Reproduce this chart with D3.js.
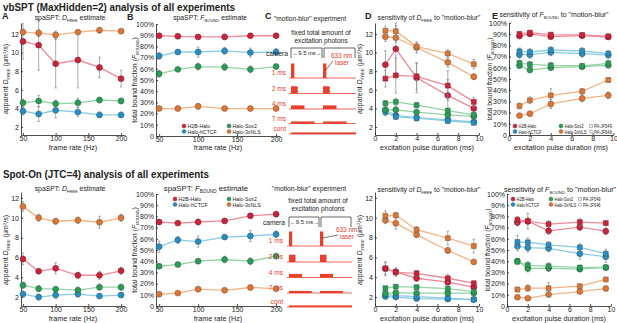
<!DOCTYPE html>
<html>
<head>
<meta charset="utf-8">
<script src="https://cdn.jsdelivr.net/npm/d3@7"></script>
<style>
  body { margin: 0; background: #fff; }
  svg { font-family: 'Liberation Sans', Arial, sans-serif; }
  .axis path, .axis line { stroke: #222; stroke-width: 0.8; }
  .axis text { font-size: 7px; fill: #222; font-family: 'Liberation Sans', Arial, sans-serif; }
</style>
</head>
<body>
<svg id="fig" width="617" height="323"></svg>
<script>
// Categories
const proteins = ['H2B-Halo', 'Halo-hCTCF', 'Halo-Sox2', 'Halo-3xNLS']
const frameRates = [50, 74, 100, 134, 167, 200]
const pulseDurations = [1, 2, 4, 7, 9.5]
const frameTicks = [50, 100, 150, 200]
const pulseTicks = [0, 2, 4, 6, 8, 10]
const dfreeTicks = [2, 4, 6, 8, 10, 12]
const fboundTicks = [0, 10, 20, 30, 40, 50, 60, 70, 80, 90, 100]
const schemeLabels = ['1 ms', '2 ms', '4 ms', '7 ms', 'cont']
const schemePulses = [1, 2, 4, 7, 9.5]
const dyeLabels = ['PA-JF549', 'PA-JF646']

// vbSPT, frame rate series (order: H2B, hCTCF, Sox2, 3xNLS)
const vbFrameDfree = [
  [11.2, 10.8, 8.8, 9.2, 8.4, 7.2],
  [3.7, 3.4, 3.8, 3.6, 3.3, 3.3],
  [4.6, 4.8, 4.5, 4.6, 4.9, 4.8],
  [12.2, 12.1, 11.9, 12.2, 12.4, 12.3]
]
const vbFrameDfreeErr = [
  [1.9, 2.7, 2.6, 3.0, 1.1, 0.9],
  [0.4, 0.8, 0.8, 0.5, 0.3, 0.3],
  [0.4, 0.6, 0.4, 0.5, 0.3, 0.3],
  [0.3, 0.4, 0.4, 0.2, 0.3, 0.2]
]
const vbFrameFbound = [
  [89.5, 89, 88.5, 88.5, 89.5, 89.5],
  [71.5, 75, 75, 76, 74.5, 75],
  [55.5, 59.5, 62, 61.5, 59.5, 62],
  [24.5, 24.5, 26.5, 24.5, 24.5, 24.5]
]
const vbFrameFboundErr = [
  [1, 1, 1, 2.5, 1, 1],
  [3, 2, 4.5, 3, 4, 3],
  [3, 1, 3, 3, 3, 2],
  [1, 1, 2.5, 1, 1.5, 1]
]

// vbSPT, pulse duration series, one array per dye
const vbPulseDfree549 = [
  [7.2, 7.55, 7.45, 6.45, 4.7],
  [3.6, 3.1, 2.95, 2.65, 2.45],
  [4.55, 4.7, 4.35, 3.75, 3.3],
  [12.35, 12.3, 10.65, 9.9, 8.75]
]
const vbPulseDfree549Err = [
  [0.9, 1.9, 1.4, 1.6, 0.5],
  [0.4, 0.3, 0.3, 0.2, 0.2],
  [0.3, 0.4, 0.3, 0.3, 0.3],
  [0.5, 0.6, 0.4, 0.4, 0.5]
]
const vbPulseDfree646 = [
  [8.7, 10.4, 7.3, 5.4, 4.0],
  [3.8, 3.25, 3.0, 2.75, 2.55],
  [3.85, 3.85, 3.6, 3.3, 3.15],
  [11.7, 11.6, 10.55, 8.95, 7.4]
]
const vbPulseDfree646Err = [
  [1.5, 2.8, 1.6, 1.7, 0.6],
  [0.5, 0.4, 0.3, 0.3, 0.3],
  [0.3, 0.3, 0.3, 0.3, 0.3],
  [0.5, 0.5, 0.6, 0.5, 0.3]
]
const vbPulseFbound549 = [
  [90.2, 91.4, 89.6, 89.3, 88.1],
  [74.7, 74.1, 75.9, 75, 72.6],
  [64.3, 63.1, 62.2, 61.6, 64],
  [25.9, 31, 35.4, 39, 49.1]
]
const vbPulseFbound549Err = [
  [1.5, 1.5, 1.5, 1, 1.5],
  [3, 3, 3, 3, 3],
  [2.5, 2.5, 2.5, 1.5, 2.5],
  [2.5, 3, 6, 2.5, 2]
]
const vbPulseFbound646 = [
  [88.4, 90.2, 87.8, 88.7, 87.5],
  [71.7, 71.7, 73.8, 72.6, 71.4],
  [61.9, 58, 60.1, 61, 62.2],
  [17.3, 19, 27.7, 32.7, 35.4]
]
const vbPulseFbound646Err = [
  [1.5, 1.5, 1.5, 1, 1.5],
  [3, 3, 3, 3, 3],
  [2, 2, 2, 1.5, 2],
  [1, 1, 4, 3, 3]
]

// Spot-On, frame rate series
const soFrameDfree = [
  [5.85, 4.6, 4.9, 4.2, 4.2, 4.65],
  [2.3, 2.0, 2.2, 2.3, 2.1, 2.2],
  [3.2, 2.85, 2.8, 2.7, 3.0, 3.0],
  [11.15, 10.0, 9.65, 9.75, 9.55, 10.0]
]
const soFrameDfreeErr = [
  [0.6, 0.2, 0.55, 0.3, 0.4, 0.35],
  [0.3, 0.3, 0.3, 0.3, 0.2, 0.2],
  [0.3, 0.3, 0.2, 0.3, 0.3, 0.3],
  [0.5, 0.35, 0.3, 0.3, 0.6, 0.35]
]
const soFrameFbound = [
  [75, 74, 75, 76, 80.5, 82],
  [53, 59, 57.5, 61.5, 62.5, 64],
  [35.5, 37, 40, 41.5, 40, 44.5],
  [10.5, 11.5, 15, 14, 16.5, 15.5]
]
const soFrameFboundErr = [
  [2, 1, 2.5, 1, 2, 2],
  [5, 3, 5, 2, 5, 3],
  [2, 1, 2, 3, 3, 2],
  [1, 1, 2, 1, 1.5, 1]
]

// Spot-On, pulse duration series
const soPulseDfree549 = [
  [4.9, 4.5, 4.4, 3.9, 3.4],
  [2.25, 2.15, 2.05, 1.9, 1.75],
  [2.9, 3.05, 3.0, 2.85, 2.55],
  [10.2, 10.25, 8.8, 7.95, 7.15]
]
const soPulseDfree549Err = [
  [0.6, 0.4, 0.3, 0.4, 0.2],
  [0.15, 0.15, 0.15, 0.15, 0.15],
  [0.15, 0.15, 0.15, 0.15, 0.15],
  [0.5, 0.3, 0.3, 0.7, 0.7]
]
const soPulseDfree646 = [
  [4.85, 4.55, 3.9, 3.5, 3.0],
  [2.05, 2.0, 1.85, 1.8, 1.75],
  [2.35, 2.45, 2.4, 2.4, 2.4],
  [9.75, 9.45, 8.3, 6.7, 5.55]
]
const soPulseDfree646Err = [
  [0.7, 0.4, 0.3, 0.3, 0.2],
  [0.15, 0.15, 0.15, 0.15, 0.15],
  [0.15, 0.15, 0.15, 0.15, 0.15],
  [0.3, 0.6, 0.3, 0.3, 0.2]
]
const soPulseFbound549 = [
  [76.9, 75.7, 73.1, 74.9, 74],
  [57.2, 56.9, 54.5, 52.4, 46.7],
  [39.5, 36.5, 35.6, 34.4, 34.4],
  [14.7, 15.9, 15.9, 17.7, 23.7]
]
const soPulseFbound549Err = [
  [3, 7, 3, 3, 2],
  [6, 4, 3, 3, 4],
  [2, 3, 3, 2, 2],
  [2, 3, 5, 2, 2]
]
const soPulseFbound646 = [
  [74.6, 75.7, 67.1, 70.4, 66.8],
  [53.3, 52.1, 51.5, 46.7, 44],
  [40.1, 33.5, 33.8, 32.9, 34.4],
  [7.8, 6.9, 10.2, 12.9, 15.6]
]
const soPulseFbound646Err = [
  [3, 3, 3, 3, 3],
  [4, 4, 3, 5, 5],
  [2, 3, 3, 2, 2],
  [1, 1, 2, 2, 2]
]

// styles
const markerColors = ['#c8253c', '#2b8dbf', '#2e9a58', '#d8773a']
const markerStroke = ['#7d1424', '#175a7c', '#1b6236', '#8c461c']
const lineColors = ['#f28a99', '#8ccbe6', '#94d3a5', '#f4b386']
const schemeRed = '#e8402b'

const svg = d3.select('#fig')
const pct = d => d === 0 ? '0' : d + '%'

// draws both axes and returns scales
function addPanel ({ xDomain, xRange, yDomain, yRange, xTicks, yTicks, yFormat }) {
  const x = d3.scaleLinear().domain(xDomain).range(xRange)
  const y = d3.scaleLinear().domain(yDomain).range(yRange)
  const g = svg.append('g')
  g.append('g').attr('class', 'axis')
    .attr('transform', `translate(0,${yRange[0]})`)
    .call(d3.axisBottom(x).tickValues(xTicks).tickSizeInner(-2).tickSizeOuter(0).tickPadding(1.5))
  g.append('g').attr('class', 'axis')
    .attr('transform', `translate(${xRange[0]},0)`)
    .call(d3.axisLeft(y).tickValues(yTicks).tickFormat(yFormat || d3.format('d')).tickSizeInner(-2).tickSizeOuter(0).tickPadding(2))
  return { g, x, y }
}

function addSeries (p, xs, vals, errs, k, shape) {
  const pts = xs.map((d, i) => ({ x: d, v: vals[i], e: errs[i] }))
  p.g.append('path').datum(pts)
    .attr('fill', 'none')
    .attr('stroke', lineColors[k])
    .attr('stroke-width', 1.3)
    .attr('d', d3.line().x(d => p.x(d.x)).y(d => p.y(d.v)))
  const eb = p.g.append('g').attr('stroke', '#8a8a8a').attr('stroke-width', 0.7)
  eb.selectAll('.v').data(pts).join('line')
    .attr('x1', d => p.x(d.x)).attr('x2', d => p.x(d.x))
    .attr('y1', d => p.y(d.v - d.e)).attr('y2', d => p.y(d.v + d.e))
  eb.selectAll('.t').data(pts).join('line')
    .attr('x1', d => p.x(d.x) - 1.3).attr('x2', d => p.x(d.x) + 1.3)
    .attr('y1', d => p.y(d.v + d.e)).attr('y2', d => p.y(d.v + d.e))
  eb.selectAll('.b').data(pts).join('line')
    .attr('x1', d => p.x(d.x) - 1.3).attr('x2', d => p.x(d.x) + 1.3)
    .attr('y1', d => p.y(d.v - d.e)).attr('y2', d => p.y(d.v - d.e))
  const sym = d3.symbol().type(shape === 'square' ? d3.symbolSquare : d3.symbolCircle).size(shape === 'square' ? 24 : 28)
  p.g.append('g').selectAll('path').data(pts).join('path')
    .attr('transform', d => `translate(${p.x(d.x)},${p.y(d.v)})`)
    .attr('d', sym)
    .attr('fill', markerColors[k])
    .attr('stroke', markerStroke[k])
    .attr('stroke-width', 0.5)
}

function text (x, y, str, size, opts = {}) {
  return svg.append('text')
    .attr('x', x).attr('y', y)
    .attr('font-size', size + 'px')
    .attr('fill', opts.fill || '#222')
    .attr('font-weight', opts.bold ? 'bold' : null)
    .attr('text-anchor', opts.anchor || 'start')
    .text(str)
}

// squeeze a text horizontally, the original uses a narrow face
function squeeze (t, f) {
  const w = t.node().getComputedTextLength()
  t.attr('textLength', w * f).attr('lengthAdjust', 'spacingAndGlyphs')
  return t
}

// text with a small-caps subscript, e.g. D_FREE
function subText (x, y, size, parts, opts = {}) {
  const t = svg.append('text')
    .attr('font-size', size + 'px')
    .attr('fill', '#222')
    .attr('text-anchor', opts.anchor || 'middle')
  if (opts.rotate) t.attr('transform', `translate(${x},${y}) rotate(-90)`)
  else t.attr('x', x).attr('y', y)
  parts.forEach(([s, kind]) => {
    const ts = t.append('tspan').text(s)
    if (kind === 'i') ts.attr('font-style', 'italic')
    if (kind === 'sub') ts.attr('font-size', (size * 0.6) + 'px').attr('dy', size * 0.25)
    if (kind === 'back') ts.attr('dy', -size * 0.25)
    if (kind === 'sup') ts.attr('font-size', (size * 0.6) + 'px').attr('dy', -size * 0.35)
    if (kind === 'down') ts.attr('dy', size * 0.35)
  })
  return t
}

const dfreeLabel = [['apparent '], ['D', 'i'], ['FREE', 'sub'], [' (μm', 'back'], ['2', 'sup'], ['/s)', 'down']]
const fboundLabel = [['total bound fraction ('], ['F', 'i'], ['BOUND', 'sub'], [')', 'back']]

function addLegend (x0, y0, colGap, size, narrow, dyes) {
  proteins.forEach((name, k) => {
    const cx = x0 + (k >= 2 ? colGap : 0)
    const cy = y0 + (k % 2) * 5.5
    svg.append('circle').attr('cx', cx).attr('cy', cy).attr('r', 2)
      .attr('fill', markerColors[k]).attr('stroke', markerStroke[k]).attr('stroke-width', 0.4)
    squeeze(text(cx + 3.5, cy + 2, name, size), narrow)
  })
  if (dyes) {
    dyeLabels.forEach((name, k) => {
      const cx = dyes
      const cy = y0 + k * 5.5
      const sym = d3.symbol().type(k === 0 ? d3.symbolSquare : d3.symbolCircle).size(8)
      svg.append('path').attr('d', sym).attr('transform', `translate(${cx},${cy})`)
        .attr('fill', 'none').attr('stroke', '#666').attr('stroke-width', 0.5)
      squeeze(text(cx + 3, cy + 2, name, size), narrow)
    })
  }
}

// "motion-blur" schematic
function addScheme ({ x0, period, labelX, baselines, lineEnd, camY, camX, fixedY, laserX, laserY }) {
  const xs = d3.scaleLinear().domain([0, 9.5]).range([x0, x0 + period])
  const g = svg.append('g')
  text((x0 + x0 + 2 * period) / 2 - 2, fixedY, 'fixed total amount of', 6.6, { anchor: 'middle' })
  text((x0 + x0 + 2 * period) / 2 - 2, fixedY + 8, 'excitation photons', 6.6, { anchor: 'middle' })
  text(camX, camY + 2.5, 'camera', 6.6, { anchor: 'end' })
  // camera frames
  const top = camY - 5
  const bot = camY + 5
  g.append('path')
    .attr('d', `M${xs(0)},${bot}V${top}H${xs(9.5) - 1}V${bot}M${xs(9.5) + 1},${bot}V${top}H${xs(19)}V${bot}`)
    .attr('fill', 'none').attr('stroke', '#222').attr('stroke-width', 0.7)
  text((xs(0) + xs(9.5)) / 2, camY + 2.3, '←9.5 ms→', 5.8, { anchor: 'middle' })

  schemePulses.forEach((ms, i) => {
    const base = baselines[i]
    text(labelX, base - 3, schemeLabels[i], 6.6, { anchor: 'end', fill: schemeRed })
    g.append('line').attr('x1', xs(0) - 2).attr('x2', lineEnd).attr('y1', base).attr('y2', base)
      .attr('stroke', schemeRed).attr('stroke-width', 0.8)
    if (i < 4) {
      const h = 14.5 / ms
      ;[0, 9.5].forEach(s => {
        g.append('rect').attr('x', xs(s)).attr('y', base - h)
          .attr('width', xs(s + ms) - xs(s)).attr('height', h)
          .attr('fill', schemeRed)
      })
    } else {
      g.append('rect').attr('x', xs(0)).attr('y', base - 1.6)
        .attr('width', lineEnd - xs(0)).attr('height', 1.6).attr('fill', schemeRed)
    }
  })
  text(laserX, laserY, '633 nm', 6.4, { fill: schemeRed })
  text(laserX + 4, laserY + 7, 'laser', 6.4, { fill: schemeRed })
  g.append('line').attr('x1', laserX + 2).attr('y1', laserY + 3).attr('x2', xs(10.3)).attr('y2', baselines[0] - 8)
    .attr('stroke', '#222').attr('stroke-width', 0.6)
}

// ---------------- row 1 : vbSPT ----------------
text(3, 10.5, 'vbSPT (MaxHidden=2) analysis of all experiments', 11.5, { bold: true })
  .attr('textLength', 232).attr('lengthAdjust', 'spacingAndGlyphs')
text(2, 19, 'A', 9, { bold: true })
text(127, 19.5, 'B', 9, { bold: true })
text(265, 18.5, 'C', 9, { bold: true })
text(365, 18.5, 'D', 9, { bold: true })
text(492, 19, 'E', 9, { bold: true })

// A
const pA1 = addPanel({ xDomain: [47, 206], xRange: [21, 125], yDomain: [1.14, 13.18], yRange: [135, 23], xTicks: frameTicks, yTicks: dfreeTicks })
proteins.forEach((_, k) => addSeries(pA1, frameRates, vbFrameDfree[k], vbFrameDfreeErr[k], k, 'circle'))
subText(70, 20, 6.8, [['spaSPT: '], ['D', 'i'], ['FREE', 'sub'], [' estimate', 'back']])
text(73, 150, 'frame rate (Hz)', 7.2, { anchor: 'middle' })
subText(8, 79, 7, dfreeLabel, { rotate: true })

// B
const pB1 = addPanel({ xDomain: [46, 205], xRange: [156, 280], yDomain: [0, 100], yRange: [136, 24], xTicks: frameTicks, yTicks: fboundTicks, yFormat: pct })
proteins.forEach((_, k) => addSeries(pB1, frameRates, vbFrameFbound[k], vbFrameFboundErr[k], k, 'circle'))
subText(210, 20, 6.8, [['spaSPT: '], ['F', 'i'], ['BOUND', 'sub'], [' estimate', 'back']])
text(218, 150, 'frame rate (Hz)', 7.2, { anchor: 'middle' })
subText(137, 80, 7, fboundLabel, { rotate: true })
addLegend(184, 126, 45, 5.8, 0.9)

// C
subText(274, 20.5, 6.6, [['"motion-blur" experiment']], { anchor: 'start' })
addScheme({ x0: 291, period: 32, labelX: 286, baselines: [78, 93.5, 109, 123.5, 134], lineEnd: 356, camY: 53, camX: 288, fixedY: 35, laserX: 331, laserY: 58 })

// D
const pD1 = addPanel({ xDomain: [0, 10], xRange: [375, 479], yDomain: [1.14, 13.18], yRange: [135, 23], xTicks: pulseTicks, yTicks: dfreeTicks })
proteins.forEach((_, k) => {
  addSeries(pD1, pulseDurations, vbPulseDfree646[k], vbPulseDfree646Err[k], k, 'circle')
  addSeries(pD1, pulseDurations, vbPulseDfree549[k], vbPulseDfree549Err[k], k, 'square')
})
subText(429, 20, 6.8, [['sensitivity of '], ['D', 'i'], ['FREE', 'sub'], [' to "motion-blur"', 'back']])
text(427, 150, 'excitation pulse duration (ms)', 7.2, { anchor: 'middle' })
subText(362, 79, 7, dfreeLabel, { rotate: true })

// E
const pE1 = addPanel({ xDomain: [0, 10], xRange: [509, 613.5], yDomain: [0, 100], yRange: [135, 23], xTicks: pulseTicks, yTicks: fboundTicks, yFormat: pct })
proteins.forEach((_, k) => {
  addSeries(pE1, pulseDurations, vbPulseFbound646[k], vbPulseFbound646Err[k], k, 'circle')
  addSeries(pE1, pulseDurations, vbPulseFbound549[k], vbPulseFbound549Err[k], k, 'square')
})
subText(554, 17, 7, [['sensitivity of '], ['F', 'i'], ['BOUND', 'sub'], [' to "motion-blur"', 'back']])
text(561, 150, 'excitation pulse duration (ms)', 7.2, { anchor: 'middle' })
subText(492, 79, 6.8, fboundLabel, { rotate: true })
addLegend(515, 126, 46, 5.4, 0.76, 591)

// ---------------- row 2 : Spot-On ----------------
text(3, 177.5, 'Spot-On (JTC=4) analysis of all experiments', 11.5, { bold: true })
  .attr('textLength', 206).attr('lengthAdjust', 'spacingAndGlyphs')

const pA2 = addPanel({ xDomain: [47, 206], xRange: [21, 125], yDomain: [1.1, 12.6], yRange: [306, 192], xTicks: frameTicks, yTicks: dfreeTicks })
proteins.forEach((_, k) => addSeries(pA2, frameRates, soFrameDfree[k], soFrameDfreeErr[k], k, 'circle'))
subText(70, 191, 6.8, [['spaSPT: '], ['D', 'i'], ['FREE', 'sub'], [' estimate', 'back']])
text(73, 321, 'frame rate (Hz)', 7.2, { anchor: 'middle' })
subText(8, 250, 7, dfreeLabel, { rotate: true })

const pB2 = addPanel({ xDomain: [46, 205], xRange: [156, 280], yDomain: [0, 100], yRange: [306, 194], xTicks: frameTicks, yTicks: fboundTicks, yFormat: pct })
proteins.forEach((_, k) => addSeries(pB2, frameRates, soFrameFbound[k], soFrameFboundErr[k], k, 'circle'))
subText(206, 191, 7.8, [['spaSPT: '], ['F', 'i'], ['BOUND', 'sub'], [' estimate', 'back']])
text(218, 321, 'frame rate (Hz)', 7.2, { anchor: 'middle' })
subText(137, 250, 7, fboundLabel, { rotate: true })
addLegend(175, 199, 54, 5.8, 0.9)

subText(309, 191, 6.8, [['"motion-blur" experiment']])
addScheme({ x0: 289, period: 31, labelX: 283, baselines: [246, 262, 277.5, 293, 307], lineEnd: 352, camY: 222, camX: 285, fixedY: 203, laserX: 336, laserY: 232 })

const pD2 = addPanel({ xDomain: [0, 10], xRange: [375, 479], yDomain: [1.1, 12.6], yRange: [306, 192], xTicks: pulseTicks, yTicks: dfreeTicks })
proteins.forEach((_, k) => {
  addSeries(pD2, pulseDurations, soPulseDfree646[k], soPulseDfree646Err[k], k, 'circle')
  addSeries(pD2, pulseDurations, soPulseDfree549[k], soPulseDfree549Err[k], k, 'square')
})
subText(429, 192, 6.8, [['sensitivity of '], ['D', 'i'], ['FREE', 'sub'], [' to "motion-blur"', 'back']])
text(427, 321, 'excitation pulse duration (ms)', 7.2, { anchor: 'middle' })
subText(362, 250, 7, dfreeLabel, { rotate: true })

const pE2 = addPanel({ xDomain: [0, 10], xRange: [507, 611], yDomain: [0, 100], yRange: [306, 194], xTicks: pulseTicks, yTicks: fboundTicks, yFormat: pct })
proteins.forEach((_, k) => {
  addSeries(pE2, pulseDurations, soPulseFbound646[k], soPulseFbound646Err[k], k, 'circle')
  addSeries(pE2, pulseDurations, soPulseFbound549[k], soPulseFbound549Err[k], k, 'square')
})
subText(560, 192, 7.2, [['sensitivity of '], ['F', 'i'], ['BOUND', 'sub'], [' to "motion-blur"', 'back']])
text(559, 321, 'excitation pulse duration (ms)', 7.2, { anchor: 'middle' })
subText(490, 250, 6.8, fboundLabel, { rotate: true })
addLegend(513, 199, 38, 5.6, 0.72, 580)
</script>
</body>
</html>
